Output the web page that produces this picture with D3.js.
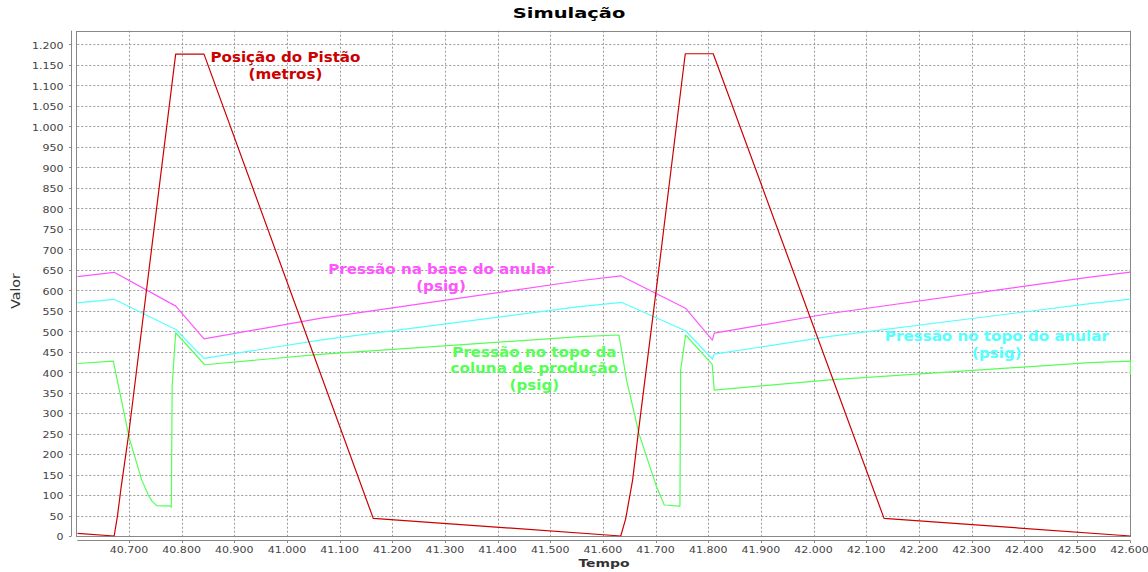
<!DOCTYPE html>
<html>
<head>
<meta charset="utf-8">
<script src="https://cdn.jsdelivr.net/npm/d3@7"></script>
<style>
  html, body { margin: 0; padding: 0; background: #fff; }
  svg { display: block; }
</style>
</head>
<body>
<svg id="chart" width="1148" height="572"></svg>
<script>
// ---------- DATA ----------
const chartTitle = "Simulação";
const xLabel = "Tempo";
const yLabel = "Valor";

const xTickValues = [40.7, 40.8, 40.9, 41.0, 41.1, 41.2, 41.3, 41.4, 41.5, 41.6,
                     41.7, 41.8, 41.9, 42.0, 42.1, 42.2, 42.3, 42.4, 42.5, 42.6];
const yTickValues = [0, 50, 100, 150, 200, 250, 300, 350, 400, 450, 500, 550, 600,
                     650, 700, 750, 800, 850, 900, 950, 1000, 1050, 1100, 1150, 1200];

// Posição do Pistão (metros)
const pistaoT = [40.600, 40.670, 40.6763, 40.683, 40.6976, 40.7868, 40.8406, 41.162,
                 41.632, 41.6412, 41.6546, 41.6652, 41.7065, 41.7545, 41.8076, 42.132, 42.600];
const pistaoV = [6.6, 0, 49, 117, 249, 1176, 1176, 43,
                 0, 41, 137, 251, 674, 1177, 1177, 43, 0];

// Pressão na base do anular (psig)
const baseAnularT = [40.600, 40.670, 40.787, 40.8406, 41.0607, 41.554, 41.632,
                     41.755, 41.806, 41.8095, 42.029, 42.523, 42.600];
const baseAnularV = [633, 643.6, 561, 481, 531, 623, 635,
                     556, 478, 495, 543, 632, 644];

// Pressão no topo do anular (psig)
const topoAnularT = [40.600, 40.670, 40.787, 40.8406, 41.0607, 41.554, 41.634,
                     41.755, 41.806, 41.8095, 42.029, 42.523, 42.600];
const topoAnularV = [569, 577.6, 504, 433.6, 478, 559.6, 570,
                     501, 432, 444, 487, 567, 578];

// Pressão no topo da coluna de produção (psig)
const colunaT = [40.600, 40.6684, 40.6987, 40.7223, 40.7348, 40.7418, 40.7508, 40.7779,
                 40.7785, 40.7802, 40.7868, 40.8419, 41.0607, 41.554, 41.6286,
                 41.643, 41.6666, 41.681, 41.700, 41.7146, 41.7444, 41.7457, 41.7552,
                 41.8057, 41.8095, 42.029, 42.523, 42.600, 42.600];
const colunaV = [421, 427, 239, 137, 100, 85, 74, 73,
                 70, 368, 496, 418, 443.4, 486.4, 490.5,
                 381, 250, 193.6, 120, 75.6, 73, 405, 490.5,
                 419, 356, 381, 423, 427, 395];

const seriesNames = ["Posição do Pistão", "Pressão na base do anular",
                     "Pressão no topo do anular", "Pressão no topo da coluna de produção"];

// annotation text lines, the series they describe, and their anchor (data coords)
const annotLines = [
  ["Posição do Pistão", "(metros)"],
  ["Pressão na base do anular", "(psig)"],
  ["Pressão no topo da", "coluna de produção", "(psig)"],
  ["Pressão no topo do anular", "(psig)"]
];
const annotSeries = [0, 1, 3, 2];
const annotT = [40.9953, 41.2906, 41.468, 42.3463];
const annotV = [1155.6, 638.7, 437.6, 475.9];

// ---------- LAYOUT / STYLE ----------
const colors = ["#cc0000", "#ff55ff", "#55ffff", "#55ff55"];
const plot = { left: 77.3, right: 1130.5, top: 30.7, bottom: 536 };
const FONT = "DejaVu Sans";

const svg = d3.select("#chart");

const x = d3.scaleLinear().domain([40.6, 42.6]).range([plot.left, plot.right]);
const y = d3.scaleLinear().domain([0, 1233.2]).range([plot.bottom, plot.top]);

function txt(parent, px, py, s, o) {
  return parent.append("text")
    .attr("transform", `translate(${px},${py}) ${o.rotate ? "rotate(" + o.rotate + ")" : ""} scale(${o.sx || 1},1)`)
    .attr("text-anchor", o.anchor || "start")
    .style("font-family", FONT)
    .style("font-size", o.size + "px")
    .style("font-weight", o.weight || "normal")
    .attr("fill", o.fill || "#000")
    .text(s);
}

// background
svg.append("rect").attr("width", 1148).attr("height", 572).attr("fill", "#fff");

// gridlines
const grid = svg.append("g");
xTickValues.forEach(v => {
  const px = Math.round(x(v)) - 0.5;
  grid.append("line").attr("x1", px).attr("x2", px)
    .attr("y1", plot.top).attr("y2", plot.bottom)
    .attr("stroke", "#9a9a9a").attr("stroke-width", 1).attr("stroke-dasharray", "2,2");
});
yTickValues.forEach(v => {
  const py = Math.round(y(v)) + 0.5;
  grid.append("line").attr("x1", plot.left).attr("x2", plot.right)
    .attr("y1", py).attr("y2", py)
    .attr("stroke", "#9a9a9a").attr("stroke-width", 1).attr("stroke-dasharray", "2,2");
});

// plot outline
svg.append("rect")
  .attr("x", Math.round(plot.left) - 0.5).attr("y", Math.round(plot.top) + 0.5)
  .attr("width", Math.round(plot.right) - Math.round(plot.left))
  .attr("height", Math.round(plot.bottom) - Math.round(plot.top))
  .attr("fill", "none").attr("stroke", "#888").attr("stroke-width", 1);

// clip
svg.append("clipPath").attr("id", "clip").append("rect")
  .attr("x", plot.left).attr("y", plot.top)
  .attr("width", plot.right - plot.left + 0.5).attr("height", plot.bottom - plot.top + 0.5);

// series
const seriesT = [pistaoT, baseAnularT, topoAnularT, colunaT];
const seriesV = [pistaoV, baseAnularV, topoAnularV, colunaV];
const line = d3.line().x(d => x(d[0])).y(d => y(d[1]));
const lines = svg.append("g").attr("clip-path", "url(#clip)");
[3, 2, 1, 0].forEach(i => {
  const pts = seriesT[i].map((t, k) => [t, seriesV[i][k]]);
  lines.append("path").datum(pts)
    .attr("d", line)
    .attr("fill", "none")
    .attr("stroke", colors[i])
    .attr("stroke-width", 1.2)
    .attr("stroke-linejoin", "round")
    .append("title").text(seriesNames[i]);
});

// axes (offset from plot area)
const yAxisX = 71.5;
const xAxisY = 540.5;
const axisG = svg.append("g");
axisG.append("line").attr("x1", yAxisX).attr("x2", yAxisX)
  .attr("y1", plot.top).attr("y2", plot.bottom).attr("stroke", "#888");
axisG.append("line").attr("x1", plot.left).attr("x2", plot.right)
  .attr("y1", xAxisY).attr("y2", xAxisY).attr("stroke", "#888");

const fmtY = v => d3.format(",")(v).replace(/,/g, ".");
const fmtX = d3.format(".3f");

yTickValues.forEach(v => {
  const py = y(v);
  axisG.append("line").attr("x1", yAxisX - 2.5).attr("x2", yAxisX)
    .attr("y1", Math.round(py) + 0.5).attr("y2", Math.round(py) + 0.5).attr("stroke", "#888");
  txt(axisG, 63.5, py + 4.4, fmtY(v), { size: 9.2, sx: 1.2, anchor: "end", fill: "#444" });
});
xTickValues.forEach(v => {
  const px = x(v);
  axisG.append("line").attr("x1", Math.round(px) - 0.5).attr("x2", Math.round(px) - 0.5)
    .attr("y1", xAxisY).attr("y2", xAxisY + 2.5).attr("stroke", "#888");
  txt(axisG, px - 1, 552.7, fmtX(v), { size: 9.2, sx: 1.2, anchor: "middle", fill: "#444" });
});

// title & axis labels
txt(svg, 569, 18.3, chartTitle, { size: 13.7, sx: 1.42, weight: "bold", anchor: "middle", fill: "#000" });
txt(svg, 604, 567.3, xLabel, { size: 11, sx: 1.27, weight: "bold", anchor: "middle", fill: "#333" });
txt(svg, 20, 291, yLabel, { size: 13, sx: 1.09, rotate: -90, anchor: "middle", fill: "#333" });

// annotations
annotLines.forEach((ls, i) => {
  const px = x(annotT[i]);
  const py = y(annotV[i]);
  ls.forEach((s, k) => {
    txt(svg, px, py + k * 16.8, s, { size: 14, sx: 1.08, weight: "bold", anchor: "middle", fill: colors[annotSeries[i]] });
  });
});
</script>
</body>
</html>
